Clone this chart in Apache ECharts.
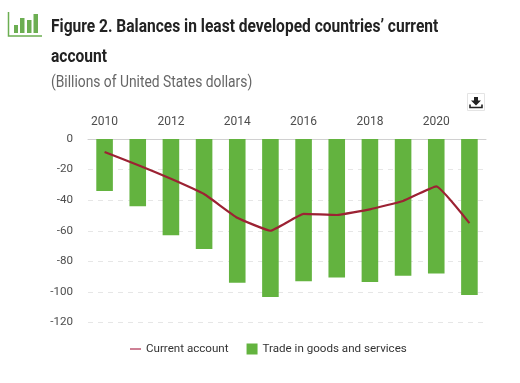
<!DOCTYPE html>
<html>
<head>
<meta charset="utf-8">
<style>
  html, body { margin: 0; padding: 0; background: #fff; }
  #main { width: 520px; height: 383px; }
</style>
<script src="https://cdn.jsdelivr.net/npm/echarts@6/dist/echarts.min.js"></script>
</head>
<body>
<div id="main"></div>
<script>
const years = ["2010", "2011", "2012", "2013", "2014", "2015", "2016", "2017", "2018", "2019", "2020", "2021"];
const tradeBalance = [-34, -44, -63, -72, -94, -103.3, -93, -90.5, -93.5, -89.5, -88, -102];
const currentAccount = [-8.5, -17, -26, -36, -51.5, -60, -49, -49.7, -46, -40.5, -31, -55];
const yTicks = { min: -120, max: 0, interval: 20 };

const textColor = "#4d4d4d";
const font = "Roboto, sans-serif";
// the original uses a condensed face, so the heading text is squeezed a bit
const squeeze = 0.864;

const chart = echarts.init(document.getElementById("main"));

chart.setOption({
  animation: false,
  backgroundColor: "#fff",
  legend: {
    left: 130, top: 343,
    padding: 0,
    itemGap: 18,
    itemWidth: 11,
    itemHeight: 11,
    textStyle: { fontFamily: font, fontSize: 11.6, color: "#333" },
    data: [
      { name: "Current account", icon: "path://M0 45h100v10H0z" },
      { name: "Trade in goods and services", icon: "rect" }
    ]
  },
  grid: { left: 88, right: 34, top: 139, height: 183.5 },
  xAxis: {
    type: "category",
    position: "top",
    data: years,
    axisTick: { show: false },
    axisLine: { lineStyle: { color: "#d0d0d0", width: 1 } },
    axisLabel: { interval: 1, margin: 11, fontFamily: font, fontSize: 12, color: textColor }
  },
  yAxis: {
    type: "value",
    min: yTicks.min,
    max: yTicks.max,
    interval: yTicks.interval,
    axisLine: { show: false },
    axisTick: { show: false },
    axisLabel: { margin: 15, padding: [3, 0, 0, 0], fontFamily: font, fontSize: 11.6, color: textColor },
    splitLine: { lineStyle: { color: "#e6e6e6", type: [5, 5], width: 1 } }
  },
  series: [
    {
      name: "Trade in goods and services",
      type: "bar",
      barWidth: "50%",
      itemStyle: { color: "#63b33f" },
      data: tradeBalance
    },
    {
      name: "Current account",
      type: "line",
      smooth: 0.1,
      symbol: "none",
      lineStyle: { color: "#9c2233", width: 2.2 },
      itemStyle: { color: "#a6193f" },
      data: currentAccount
    }
  ],
  graphic: [
    {
      type: "text", x: 51, y: 18, scaleX: squeeze,
      style: { text: "Figure 2. Balances in least developed countries’ current", fontFamily: font, fontSize: 18, fontWeight: "bold", fill: "#222" }
    },
    {
      type: "text", x: 51, y: 48, scaleX: squeeze,
      style: { text: "account", fontFamily: font, fontSize: 18, fontWeight: "bold", fill: "#222" }
    },
    {
      type: "text", x: 51, y: 75, scaleX: squeeze,
      style: { text: "(Billions of United States dollars)", fontFamily: font, fontSize: 16, fill: "#666" }
    },
    // small bar chart icon beside the title
    {
      type: "group", x: 8, y: 12,
      children: [
        { type: "polyline", shape: { points: [[0.5, 0], [0.5, 24], [34, 24]] }, style: { fill: null, stroke: "#6cae52", lineWidth: 1.5 } },
        { type: "rect", shape: { x: 6, y: 13, width: 4, height: 8 }, style: { fill: "#6cae52" } },
        { type: "rect", shape: { x: 12, y: 6, width: 4.5, height: 15 }, style: { fill: "#6cae52" } },
        { type: "rect", shape: { x: 19, y: 8, width: 4.5, height: 13 }, style: { fill: "#6cae52" } },
        { type: "rect", shape: { x: 25.5, y: 2, width: 4.5, height: 19 }, style: { fill: "#6cae52" } }
      ]
    },
    // download button
    {
      type: "group", x: 467, y: 93,
      children: [
        { type: "rect", shape: { x: 0.5, y: 0.5, width: 17, height: 17 }, style: { fill: "#fff", stroke: "#e4e4e4", lineWidth: 1 } },
        { type: "polygon", shape: { points: [[7, 4], [11, 4], [11, 7.5], [14, 7.5], [9, 12.5], [4, 7.5], [7, 7.5]] }, style: { fill: "#222" } },
        { type: "polyline", shape: { points: [[3, 11.5], [3, 14.5], [15, 14.5], [15, 11.5]] }, style: { fill: null, stroke: "#222", lineWidth: 1.6 } }
      ]
    }
  ]
});
</script>
</body>
</html>
